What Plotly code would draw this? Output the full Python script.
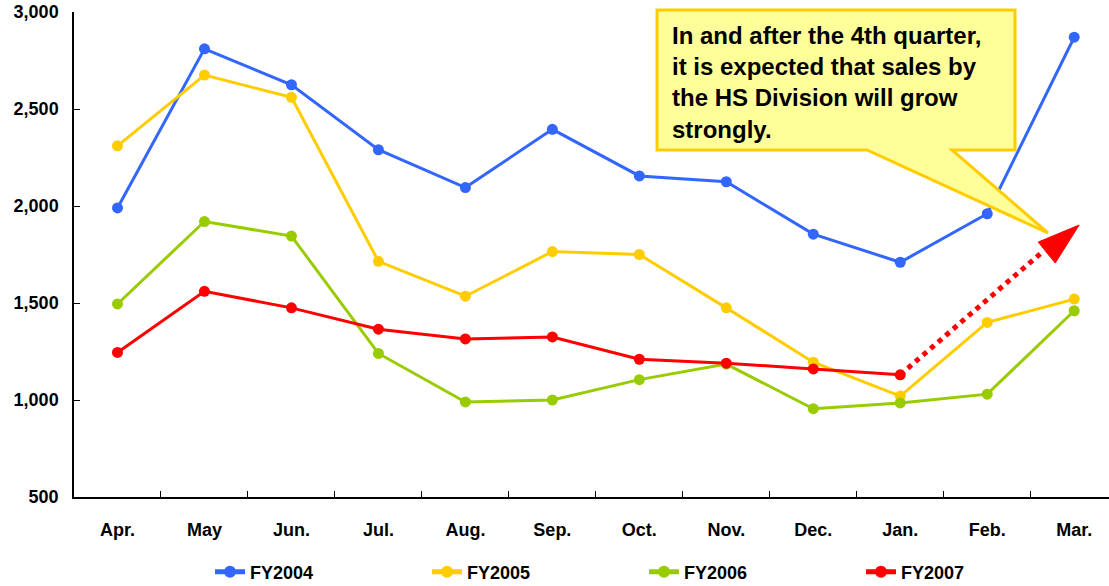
import plotly.graph_objects as go

months = ["Apr.", "May", "Jun.", "Jul.", "Aug.", "Sep.", "Oct.", "Nov.", "Dec.", "Jan.", "Feb.", "Mar."]
fy2004 = [1990, 2810, 2625, 2290, 2095, 2395, 2155, 2125, 1855, 1710, 1960, 2870]
fy2005 = [2310, 2675, 2560, 1715, 1535, 1765, 1750, 1475, 1195, 1020, 1400, 1520]
fy2006 = [1495, 1920, 1845, 1240, 990, 1000, 1105, 1185, 955, 985, 1030, 1460]
fy2007 = [1245, 1560, 1475, 1365, 1315, 1325, 1210, 1190, 1160, 1130]

series = [("FY2004", fy2004, "#3366FF"), ("FY2005", fy2005, "#FFCC00"),
          ("FY2006", fy2006, "#99CC00"), ("FY2007", fy2007, "#FF0000")]

W, H = 1109, 586
ML, MR, MT, MB = 74, 0, 12, 89
PW, PH = W - ML - MR, H - MT - MB

def px(x):
    return (x - ML) / PW

def py(y):
    return (H - MB - y) / PH

fig = go.Figure()
for name, vals, col in series:
    fig.add_trace(go.Scatter(
        x=list(range(len(vals))), y=vals, name=f"<b>{name}</b>", mode="lines+markers",
        line=dict(color=col, width=3), marker=dict(color=col, size=11),
        cliponaxis=False,
    ))

# dotted red arrow from the last FY2007 point
x0, y0 = len(fy2007) - 1, fy2007[-1]
fig.add_shape(type="line", xref="x", yref="y", x0=x0, y0=y0, x1=10.62, y1=1758,
              line=dict(color="#FF0000", width=5, dash="dot"))
fig.add_shape(type="path", xref="x", yref="y",
              path="M 10.586 1814 L 11.057 1902 L 10.782 1706 Z",
              fillcolor="#FF0000", line=dict(color="#FF0000", width=1))

# callout
pts = [(657, 10), (1015, 10), (1015, 150), (952, 150), (1048, 233), (867, 150), (657, 150)]
path = "M " + " L ".join(f"{px(a):.5f} {py(b):.5f}" for a, b in pts) + " Z"
fig.add_shape(type="path", xref="paper", yref="paper", path=path,
              fillcolor="#FFFF99", line=dict(color="#FFCC00", width=3), layer="above")
fig.add_annotation(
    xref="paper", yref="paper", x=px(670), y=py(20), xanchor="left", yanchor="top",
    align="left", showarrow=False,
    text="<b>In and after the 4th quarter,<br>it is expected that sales by<br>the HS Division will grow<br>strongly.</b>",
    font=dict(family="Liberation Sans, Arial", size=24, color="black"),
)

fig.update_layout(
    width=W, height=H, margin=dict(l=ML, r=MR, t=MT, b=MB, autoexpand=False),
    paper_bgcolor="white", plot_bgcolor="white",
    font=dict(family="Liberation Sans, Arial", color="black"),
    showlegend=True,
    legend=dict(orientation="h", x=px(210), y=py(572), xanchor="left", yanchor="middle",
                entrywidth=172, entrywidthmode="pixels",
                font=dict(size=18, family="Liberation Sans, Arial"), itemsizing="constant"),
    xaxis=dict(range=[-0.5, 11.4], tickvals=list(range(12)), ticktext=[f"<b>{m}</b>" for m in months],
               ticks="", showgrid=False, zeroline=False, showline=True, linecolor="black", linewidth=1.5,
               tickfont=dict(size=18), ticklabelstandoff=16, automargin=False,
               minor=dict(tickvals=[i + 0.5 for i in range(11)], ticks="inside", ticklen=6,
                          tickcolor="black", showgrid=False)),
    yaxis=dict(range=[500, 3000], dtick=500, tickformat=",", ticks="inside", ticklen=6,
               tickcolor="black", showgrid=False, zeroline=False, showline=True, linecolor="black",
               linewidth=1.5, tickfont=dict(size=18), ticklabelstandoff=10, automargin=False,
               tickprefix="<b>", ticksuffix="</b>"),
)

fig.write_html("out.html", config={"displayModeBar": False},
               post_script="document.body.style.margin='0';document.body.style.overflow='hidden';")
